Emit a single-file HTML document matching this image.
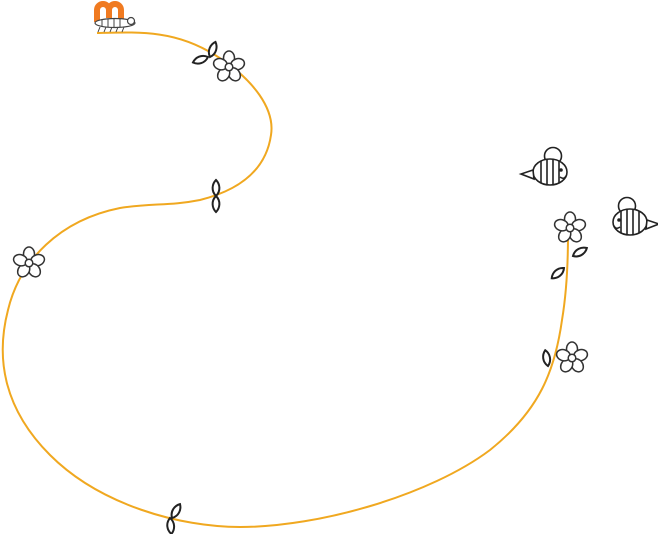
<!DOCTYPE html>
<html><head><meta charset="utf-8"><style>
html,body{margin:0;padding:0;background:#fff;width:658px;height:534px;overflow:hidden}
</style></head><body>
<svg width="658" height="534" viewBox="0 0 658 534" xmlns="http://www.w3.org/2000/svg">
<defs>
<g id="fl" fill="#fff" stroke="#333" stroke-width="1.5">
<ellipse cx="0" cy="-9" rx="5.5" ry="7"/>
<ellipse cx="0" cy="-9" rx="5.5" ry="7" transform="rotate(72)"/>
<ellipse cx="0" cy="-9" rx="5.5" ry="7" transform="rotate(144)"/>
<ellipse cx="0" cy="-9" rx="5.5" ry="7" transform="rotate(216)"/>
<ellipse cx="0" cy="-9" rx="5.5" ry="7" transform="rotate(288)"/>
<circle r="3.8"/>
</g>
<g id="lf" fill="#fff" stroke="#222" stroke-width="2">
<path d="M0,0 C-5,-5 -4,-12 0,-16 C4,-12 5,-5 0,0Z"/>
</g>
<g id="bee" fill="#fff" stroke="#222" stroke-width="1.6">
<circle cx="3" cy="-16" r="8.5"/>
<ellipse cx="0" cy="0" rx="17" ry="13"/>
<path d="M-9,-11 V11 M-3,-13 V13 M3,-13 V13 M9,-11 V11" />
<path d="M-17,-2 L-29,2 L-16,7Z"/>
<path d="M10,5 q4,3 6,-1" fill="none"/>
<circle cx="11" cy="-2" r="1" fill="#222"/>
</g>
</defs>
<path d="M97,33 C140,32 175,30 215,55 C255,80 275,110 271,135 C266,170 240,190 200,200 C170,206 150,203 120,208 C60,220 20,260 8,310 C-5,360 5,410 50,455 C100,505 180,527 240,527 C320,527 430,495 490,450 C540,410 555,370 562,320 C567,290 568,260 568,235" fill="none" stroke="#f0a820" stroke-width="2"/>
<!-- caterpillar -->
<path d="M97,22 V10 a6,6 0 0 1 12,0 V18 M109,10 a6,6 0 0 1 12,0 V22" fill="none" stroke="#f07a20" stroke-width="6"/>
<ellipse cx="115" cy="23" rx="20" ry="4.5" fill="#fff" stroke="#444" stroke-width="1.2"/>
<circle cx="131" cy="21" r="3.5" fill="#fff" stroke="#444" stroke-width="1.2"/>
<path d="M100,27 l-2,5 M106,27 l-2,5 M112,27 l-2,5 M118,27 l-2,5 M124,27 l-2,5 M102,19 v8 M108,19 v8 M114,19 v8 M120,19 v8" stroke="#444" stroke-width="1"/>
<!-- flowers -->
<use href="#fl" x="229" y="67"/>
<use href="#fl" x="29" y="263"/>
<use href="#fl" x="570" y="228"/>
<use href="#fl" x="572" y="358"/>
<!-- leaves -->
<use href="#lf" transform="translate(210,57) rotate(20)"/>
<use href="#lf" transform="translate(208,57) rotate(-110)"/>
<use href="#lf" transform="translate(216,196)"/>
<use href="#lf" transform="translate(216,196) rotate(180)"/>
<use href="#lf" transform="translate(172,518) rotate(30)"/>
<use href="#lf" transform="translate(170,518) rotate(175)"/>
<use href="#lf" transform="translate(573,256) rotate(60)"/>
<use href="#lf" transform="translate(564,268) rotate(-130)"/>
<use href="#lf" transform="translate(548,366) rotate(-10)"/>
<!-- bees -->
<use href="#bee" x="550" y="172"/>
<use href="#bee" transform="translate(630,222) scale(-1,1)"/>
</svg>
</body></html>
